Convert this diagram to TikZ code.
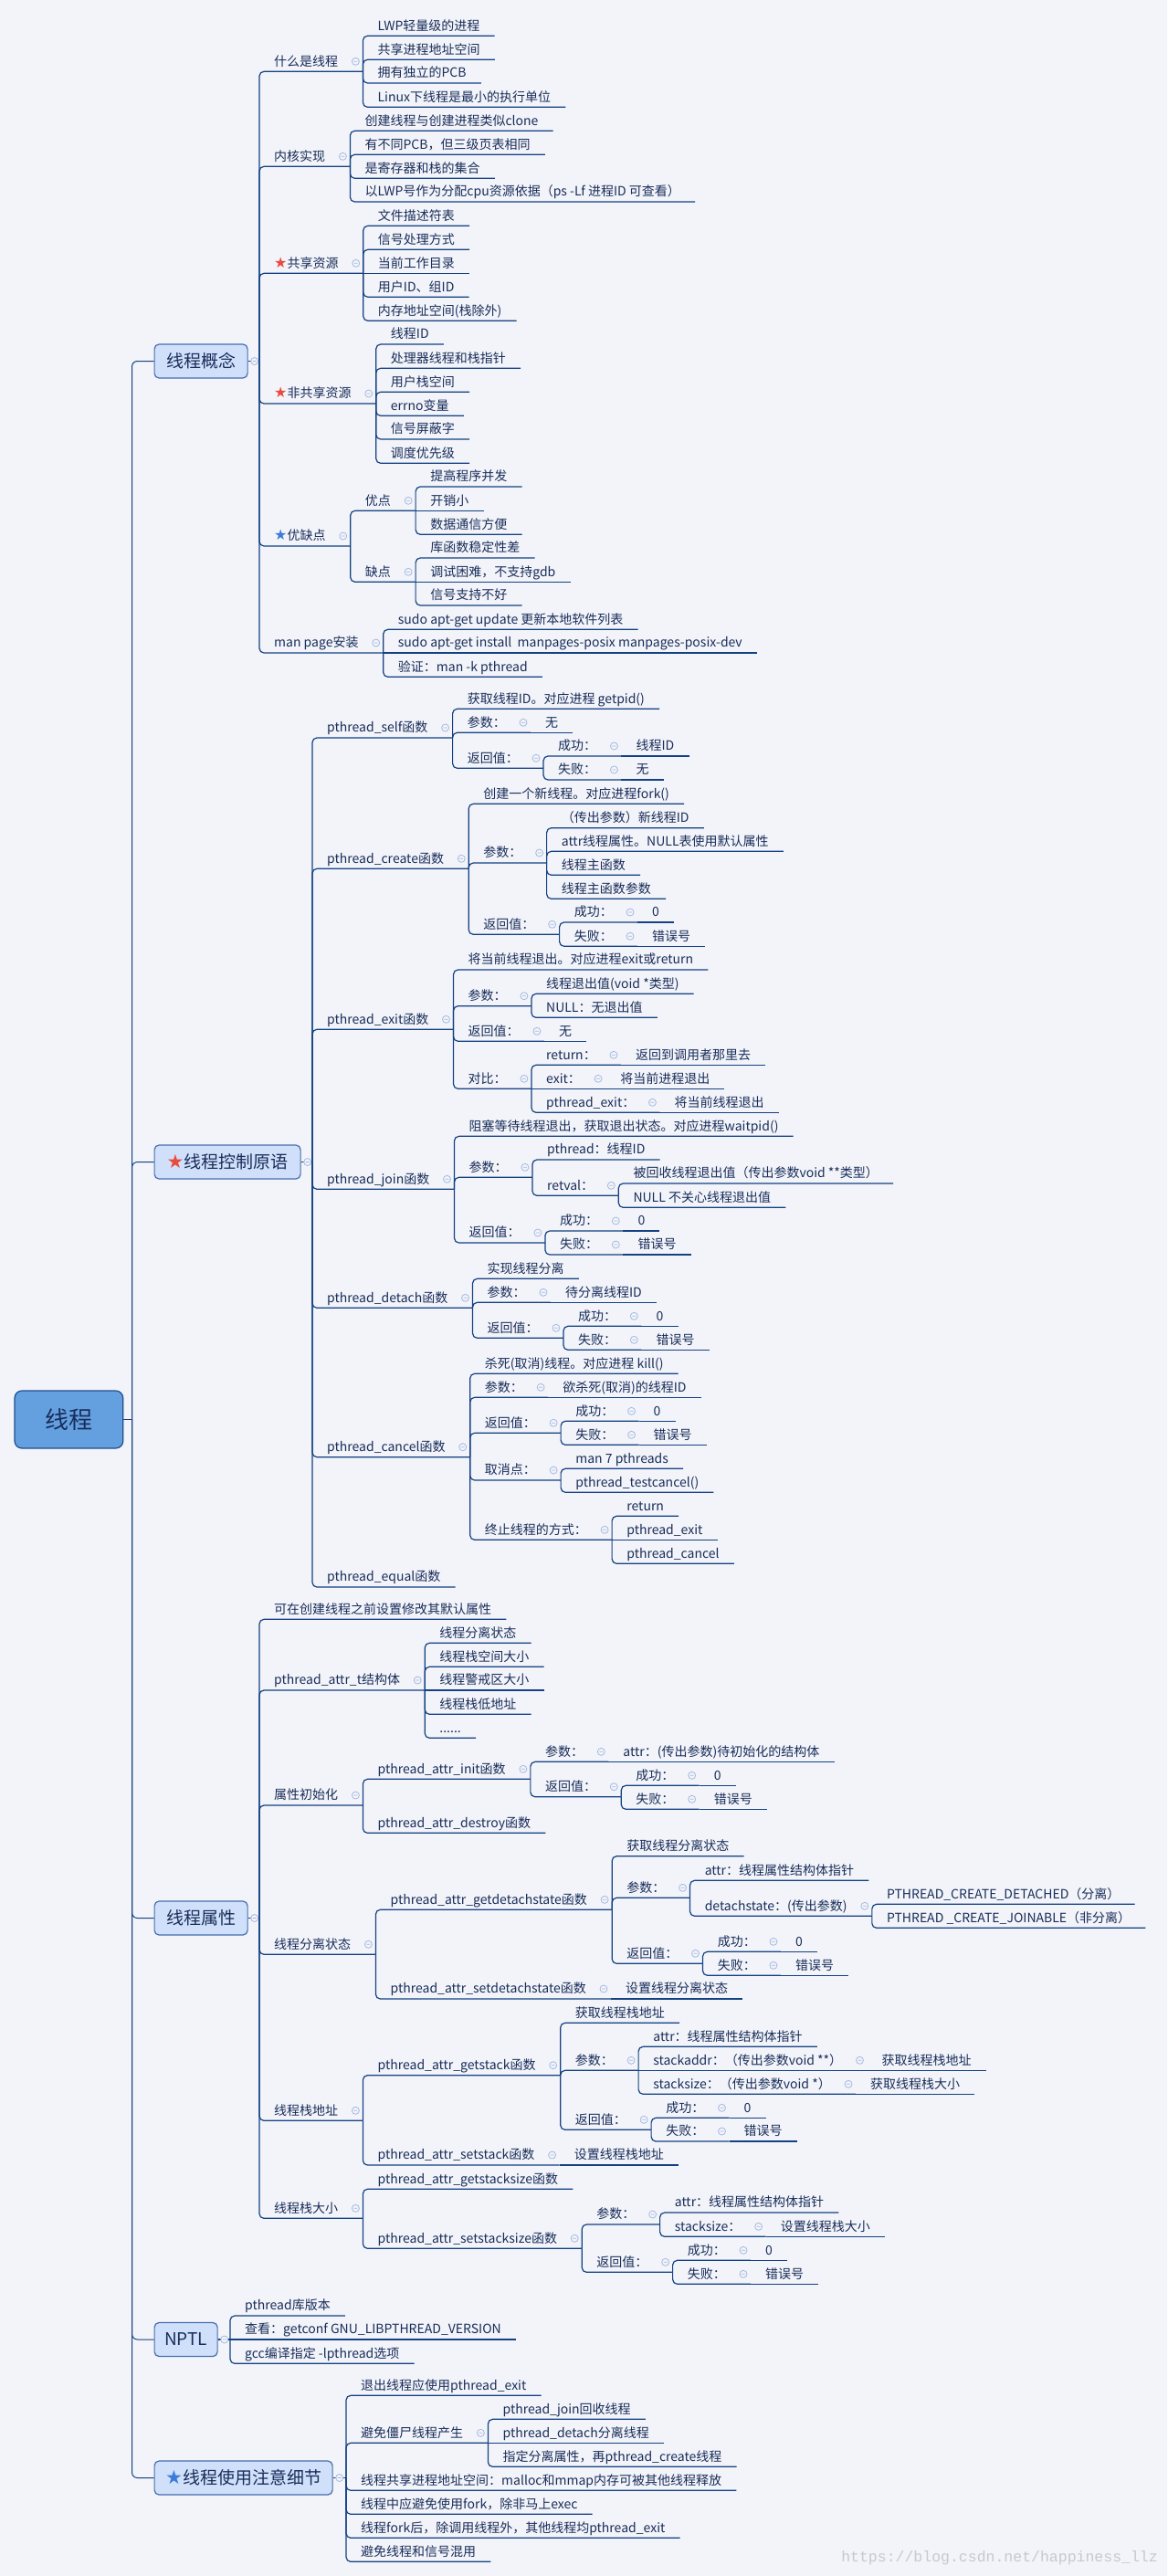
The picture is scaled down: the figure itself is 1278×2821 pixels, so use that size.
\documentclass[tikz,border=0pt]{standalone}
\usepackage{fontspec}
\setmainfont{Noto Sans CJK SC}
\newfontfamily\djf{DejaVu Sans}
\newfontfamily\wmf{Liberation Mono}
\definecolor{bgc}{RGB}{242,244,249}
\definecolor{txt}{RGB}{25,45,90}
\definecolor{lc}{RGB}{20,65,130}
\definecolor{mkc}{RGB}{165,185,225}
\definecolor{bxf}{RGB}{208,224,250}
\definecolor{bxd}{RGB}{70,110,175}
\definecolor{rtf}{RGB}{100,160,224}
\definecolor{rtd}{RGB}{31,78,140}
\definecolor{strd}{RGB}{232,76,61}
\definecolor{stbl}{RGB}{58,123,219}
\definecolor{wmc}{RGB}{200,200,206}
\newcommand\fsz{\fontsize{14pt}{16pt}\selectfont}
\newcommand\rstar{{\djf\fontsize{16pt}{16pt}\selectfont\color{strd}★}}
\newcommand\bstar{{\djf\fontsize{16pt}{16pt}\selectfont\color{stbl}★}}
\newcommand\brstar{{\djf\fontsize{21pt}{21pt}\selectfont\color{strd}★}}
\newcommand\bbstar{{\djf\fontsize{21pt}{21pt}\selectfont\color{stbl}★}}
\tikzset{
 lf/.style={anchor=south west, inner xsep=16pt, inner ysep=3pt, text height=11pt, text depth=3pt, font=\fsz, text=txt},
 pr/.style={lf, execute at end node={\hspace{11pt}}},
 ln/.style={draw=lc, line width=1.2pt, rounded corners=5pt},
 mln/.style={draw=lc, line width=1pt, rounded corners=6pt},
 bx/.style={draw=bxd, fill=bxf, rounded corners=5pt, line width=1.2pt, font=\fontsize{19pt}{22pt}\selectfont, text=txt, minimum height=37pt, anchor=west, inner sep=0pt},
 mk/.style={draw=mkc, fill=bgc, line width=0.8pt},
}
\newcommand\mkr[1]{\draw[mk] ([xshift=-8pt,yshift=11pt]#1.south east) circle[radius=4pt] +(-2pt,0) -- +(2pt,0);}
\newcommand\mkbx[1]{\draw[mk] ([xshift=7pt]#1.east) circle[radius=4pt] +(-2pt,0) -- +(2pt,0);}
\begin{document}
\begin{tikzpicture}[x=1pt,y=1pt]
\fill[bgc] (0,0) rectangle (1278,-2821);
\useasboundingbox (0,0) rectangle (1278,-2821);

% root and main boxes
\node[draw=rtd, fill=rtf, rounded corners=8pt, line width=1.2pt, minimum width=118.7pt, minimum height=63pt, inner sep=0pt, font=\fontsize{26pt}{28pt}\selectfont, text=txt] (R) at (75.4,-1554.5) {线程};
\coordinate (Rv) at (144.5,-1554.5);
\node[bx, minimum width=102pt] (A) at (168.5,-395.5) {线程概念};
\node[bx, minimum width=160pt] (B) at (168.5,-1272.5) {\brstar{}线程控制原语};
\node[bx, minimum width=102pt] (C) at (168.5,-2100.5) {线程属性};
\node[bx, minimum width=69pt] (D) at (168.5,-2562) {NPTL};
\node[bx, minimum width=195pt] (E) at (168.5,-2713.5) {\bbstar{}线程使用注意细节};
\coordinate (Av) at (284,-395.5);
\coordinate (Bv) at (342,-1272.5);
\coordinate (Cv) at (284,-2100.5);
\coordinate (Dv) at (252,-2562);
\coordinate (Ev) at (379,-2713.5);

% A
\node[pr] (A1) at (Av |- 0,-78.3) {什么是线程};
\node[lf] (A11) at (A1.south east |- 0,-39.3) {LWP轻量级的进程};
\node[lf] (A12) at (A1.south east |- 0,-65.3) {共享进程地址空间};
\node[lf] (A13) at (A1.south east |- 0,-91) {拥有独立的PCB};
\node[lf] (A14) at (A1.south east |- 0,-117.3) {Linux下线程是最小的执行单位};
\node[pr] (A2) at (Av |- 0,-182.3) {内核实现};
\node[lf] (A21) at (A2.south east |- 0,-143.3) {创建线程与创建进程类似clone};
\node[lf] (A22) at (A2.south east |- 0,-169.3) {有不同PCB，但三级页表相同};
\node[lf] (A23) at (A2.south east |- 0,-195.3) {是寄存器和栈的集合};
\node[lf] (A24) at (A2.south east |- 0,-221) {以LWP号作为分配cpu资源依据（ps -Lf 进程ID 可查看）};
\node[pr] (A3) at (Av |- 0,-299.3) {\rstar{}共享资源};
\node[lf] (A31) at (A3.south east |- 0,-247.3) {文件描述符表};
\node[lf] (A32) at (A3.south east |- 0,-273.3) {信号处理方式};
\node[lf] (A33) at (A3.south east) {当前工作目录};
\node[lf] (A34) at (A3.south east |- 0,-325.3) {用户ID、组ID};
\node[lf] (A35) at (A3.south east |- 0,-351.3) {内存地址空间(栈除外)};
\node[pr] (A4) at (Av |- 0,-442) {\rstar{}非共享资源};
\node[lf] (A41) at (A4.south east |- 0,-377) {线程ID};
\node[lf] (A42) at (A4.south east |- 0,-403.3) {处理器线程和栈指针};
\node[lf] (A43) at (A4.south east |- 0,-429.3) {用户栈空间};
\node[lf] (A44) at (A4.south east |- 0,-455.3) {errno变量};
\node[lf] (A45) at (A4.south east |- 0,-481) {信号屏蔽字};
\node[lf] (A46) at (A4.south east |- 0,-507.3) {调度优先级};
\node[pr] (A5) at (Av |- 0,-598) {\bstar{}优缺点};
\node[pr] (A51) at (A5.south east |- 0,-559.3) {优点};
\node[lf] (A511) at (A51.south east |- 0,-533) {提高程序并发};
\node[lf] (A512) at (A51.south east) {开销小};
\node[lf] (A513) at (A51.south east |- 0,-585.3) {数据通信方便};
\node[pr] (A52) at (A5.south east |- 0,-637.3) {缺点};
\node[lf] (A521) at (A52.south east |- 0,-611) {库函数稳定性差};
\node[lf] (A522) at (A52.south east) {调试困难，不支持gdb};
\node[lf] (A523) at (A52.south east |- 0,-663) {信号支持不好};
\node[pr] (A6) at (Av |- 0,-715) {man page安装};
\node[lf] (A61) at (A6.south east |- 0,-689.3) {sudo apt-get update 更新本地软件列表};
\node[lf] (A62) at (A6.south east) {sudo apt-get install\ \ manpages-posix manpages-posix-dev};
\node[lf] (A63) at (A6.south east |- 0,-741.3) {验证：man -k pthread};

% B
\node[pr] (B1) at (Bv |- 0,-808) {pthread\_self函数};
\node[lf] (B11) at (B1.south east |- 0,-776.3) {获取线程ID。对应进程 getpid()};
\node[pr] (B12) at (B1.south east |- 0,-802.3) {参数：};
\node[lf] (B12a) at (B12.south east) {无};
\node[pr] (B13) at (B1.south east |- 0,-841.3) {返回值：};
\node[pr] (B131) at (B13.south east |- 0,-828) {成功：};
\node[lf] (B131a) at (B131.south east) {线程ID};
\node[pr] (B132) at (B13.south east |- 0,-854) {失败：};
\node[lf] (B132a) at (B132.south east) {无};
\node[pr] (B2) at (Bv |- 0,-951.3) {pthread\_create函数};
\node[lf] (B21) at (B2.south east |- 0,-880.3) {创建一个新线程。对应进程fork()};
\node[pr] (B22) at (B2.south east |- 0,-945) {参数：};
\node[lf] (B221) at (B22.south east |- 0,-906.7) {（传出参数）新线程ID};
\node[lf] (B222) at (B22.south east |- 0,-932.3) {attr线程属性。NULL表使用默认属性};
\node[lf] (B223) at (B22.south east |- 0,-958.3) {线程主函数};
\node[lf] (B224) at (B22.south east |- 0,-984.3) {线程主函数参数};
\node[pr] (B23) at (B2.south east |- 0,-1023.3) {返回值：};
\node[pr] (B231) at (B23.south east |- 0,-1010) {成功：};
\node[lf] (B231a) at (B231.south east) {0};
\node[pr] (B232) at (B23.south east |- 0,-1036.3) {失败：};
\node[lf] (B232a) at (B232.south east) {错误号};
\node[pr] (B3) at (Bv |- 0,-1127.3) {pthread\_exit函数};
\node[lf] (B31) at (B3.south east |- 0,-1062) {将当前线程退出。对应进程exit或return};
\node[pr] (B32) at (B3.south east |- 0,-1101.7) {参数：};
\node[lf] (B321) at (B32.south east |- 0,-1088.3) {线程退出值(void *类型)};
\node[lf] (B322) at (B32.south east |- 0,-1114.3) {NULL：无退出值};
\node[pr] (B33) at (B3.south east |- 0,-1140.3) {返回值：};
\node[lf] (B33a) at (B33.south east) {无};
\node[pr] (B34) at (B3.south east |- 0,-1192.3) {对比：};
\node[pr] (B341) at (B34.south east |- 0,-1166.3) {return：};
\node[lf] (B341a) at (B341.south east) {返回到调用者那里去};
\node[pr] (B342) at (B34.south east) {exit：};
\node[lf] (B342a) at (B342.south east) {将当前进程退出};
\node[pr] (B343) at (B34.south east |- 0,-1218.3) {pthread\_exit：};
\node[lf] (B343a) at (B343.south east) {将当前线程退出};
\node[pr] (B4) at (Bv |- 0,-1302.3) {pthread\_join函数};
\node[lf] (B41) at (B4.south east |- 0,-1244.3) {阻塞等待线程退出，获取退出状态。对应进程waitpid()};
\node[pr] (B42) at (B4.south east |- 0,-1289.3) {参数：};
\node[lf] (B421) at (B42.south east |- 0,-1270) {pthread：线程ID};
\node[pr] (B422) at (B42.south east |- 0,-1309.3) {retval：};
\node[lf] (B4221) at (B422.south east |- 0,-1296) {被回收线程退出值（传出参数void **类型）};
\node[lf] (B4222) at (B422.south east |- 0,-1322.3) {NULL 不关心线程退出值};
\node[pr] (B43) at (B4.south east |- 0,-1361) {返回值：};
\node[pr] (B431) at (B43.south east |- 0,-1348) {成功：};
\node[lf] (B431a) at (B431.south east) {0};
\node[pr] (B432) at (B43.south east |- 0,-1374) {失败：};
\node[lf] (B432a) at (B432.south east) {错误号};
\node[pr] (B5) at (Bv |- 0,-1432.3) {pthread\_detach函数};
\node[lf] (B51) at (B5.south east |- 0,-1400.3) {实现线程分离};
\node[pr] (B52) at (B5.south east |- 0,-1426.3) {参数：};
\node[lf] (B52a) at (B52.south east) {待分离线程ID};
\node[pr] (B53) at (B5.south east |- 0,-1465.3) {返回值：};
\node[pr] (B531) at (B53.south east |- 0,-1452.3) {成功：};
\node[lf] (B531a) at (B531.south east) {0};
\node[pr] (B532) at (B53.south east |- 0,-1478.3) {失败：};
\node[lf] (B532a) at (B532.south east) {错误号};
\node[pr] (B6) at (Bv |- 0,-1595.7) {pthread\_cancel函数};
\node[lf] (B61) at (B6.south east |- 0,-1504.3) {杀死(取消)线程。对应进程 kill()};
\node[pr] (B62) at (B6.south east |- 0,-1530.3) {参数：};
\node[lf] (B62a) at (B62.south east) {欲杀死(取消)的线程ID};
\node[pr] (B63) at (B6.south east |- 0,-1569.3) {返回值：};
\node[pr] (B631) at (B63.south east |- 0,-1556.3) {成功：};
\node[lf] (B631a) at (B631.south east) {0};
\node[pr] (B632) at (B63.south east |- 0,-1582.3) {失败：};
\node[lf] (B632a) at (B632.south east) {错误号};
\node[pr] (B64) at (B6.south east |- 0,-1621) {取消点：};
\node[lf] (B641) at (B64.south east |- 0,-1608.3) {man 7 pthreads};
\node[lf] (B642) at (B64.south east |- 0,-1634.3) {pthread\_testcancel()};
\node[pr] (B65) at (B6.south east |- 0,-1686.3) {终止线程的方式：};
\node[lf] (B651) at (B65.south east |- 0,-1660.3) {return};
\node[lf] (B652) at (B65.south east) {pthread\_exit};
\node[lf] (B653) at (B65.south east |- 0,-1712.3) {pthread\_cancel};
\node[lf] (B7) at (Bv |- 0,-1738) {pthread\_equal函数};

% C
\node[lf] (C1) at (Cv |- 0,-1773.3) {可在创建线程之前设置修改其默认属性};
\node[pr] (C2) at (Cv |- 0,-1851) {pthread\_attr\_t结构体};
\node[lf] (C21) at (C2.south east |- 0,-1799.3) {线程分离状态};
\node[lf] (C22) at (C2.south east |- 0,-1825.3) {线程栈空间大小};
\node[lf] (C23) at (C2.south east) {线程警戒区大小};
\node[lf] (C24) at (C2.south east |- 0,-1877.3) {线程栈低地址};
\node[lf] (C25) at (C2.south east |- 0,-1903.3) {......};
\node[pr] (C3) at (Cv |- 0,-1977) {属性初始化};
\node[pr] (C31) at (C3.south east |- 0,-1948.3) {pthread\_attr\_init函数};
\node[pr] (C311) at (C31.south east |- 0,-1929.3) {参数：};
\node[lf] (C311a) at (C311.south east) {attr：(传出参数)待初始化的结构体};
\node[pr] (C312) at (C31.south east |- 0,-1967.7) {返回值：};
\node[pr] (C3121) at (C312.south east |- 0,-1955.3) {成功：};
\node[lf] (C3121a) at (C3121.south east) {0};
\node[pr] (C3122) at (C312.south east |- 0,-1981.3) {失败：};
\node[lf] (C3122a) at (C3122.south east) {错误号};
\node[lf] (C32) at (C3.south east |- 0,-2007.3) {pthread\_attr\_destroy函数};
\node[pr] (C4) at (Cv |- 0,-2140.3) {线程分离状态};
\node[pr] (C41) at (C4.south east |- 0,-2091.3) {pthread\_attr\_getdetachstate函数};
\node[lf] (C411) at (C41.south east |- 0,-2032.7) {获取线程分离状态};
\node[pr] (C412) at (C41.south east |- 0,-2078.3) {参数：};
\node[lf] (C4121) at (C412.south east |- 0,-2059.3) {attr：线程属性结构体指针};
\node[pr] (C4122) at (C412.south east |- 0,-2098.3) {detachstate：(传出参数)};
\node[lf] (C41221) at (C4122.south east |- 0,-2085.3) {PTHREAD\_CREATE\_DETACHED（分离）};
\node[lf] (C41222) at (C4122.south east |- 0,-2111.3) {PTHREAD \_CREATE\_JOINABLE（非分离）};
\node[pr] (C413) at (C41.south east |- 0,-2150.3) {返回值：};
\node[pr] (C4131) at (C413.south east |- 0,-2137.3) {成功：};
\node[lf] (C4131a) at (C4131.south east) {0};
\node[pr] (C4132) at (C413.south east |- 0,-2163.3) {失败：};
\node[lf] (C4132a) at (C4132.south east) {错误号};
\node[pr] (C42) at (C4.south east |- 0,-2189) {pthread\_attr\_setdetachstate函数};
\node[lf] (C42a) at (C42.south east) {设置线程分离状态};
\node[pr] (C5) at (Cv |- 0,-2322.3) {线程栈地址};
\node[pr] (C51) at (C5.south east |- 0,-2272.7) {pthread\_attr\_getstack函数};
\node[lf] (C511) at (C51.south east |- 0,-2215.3) {获取线程栈地址};
\node[pr] (C512) at (C51.south east |- 0,-2267.3) {参数：};
\node[lf] (C5121) at (C512.south east |- 0,-2241.3) {attr：线程属性结构体指针};
\node[pr] (C5122) at (C512.south east) {stackaddr：（传出参数void **）};
\node[lf] (C5122a) at (C5122.south east) {获取线程栈地址};
\node[pr] (C5123) at (C512.south east |- 0,-2293.3) {stacksize：（传出参数void *）};
\node[lf] (C5123a) at (C5123.south east) {获取线程栈大小};
\node[pr] (C513) at (C51.south east |- 0,-2332.3) {返回值：};
\node[pr] (C5131) at (C513.south east |- 0,-2319.3) {成功：};
\node[lf] (C5131a) at (C5131.south east) {0};
\node[pr] (C5132) at (C513.south east |- 0,-2345) {失败：};
\node[lf] (C5132a) at (C5132.south east) {错误号};
\node[pr] (C52) at (C5.south east |- 0,-2371) {pthread\_attr\_setstack函数};
\node[lf] (C52a) at (C52.south east) {设置线程栈地址};
\node[pr] (C6) at (Cv |- 0,-2429.3) {线程栈大小};
\node[lf] (C61) at (C6.south east |- 0,-2397.3) {pthread\_attr\_getstacksize函数};
\node[pr] (C62) at (C6.south east |- 0,-2462.3) {pthread\_attr\_setstacksize函数};
\node[pr] (C621) at (C62.south east |- 0,-2436) {参数：};
\node[lf] (C6211) at (C621.south east |- 0,-2423) {attr：线程属性结构体指针};
\node[pr] (C6212) at (C621.south east |- 0,-2449.3) {stacksize：};
\node[lf] (C6212a) at (C6212.south east) {设置线程栈大小};
\node[pr] (C622) at (C62.south east |- 0,-2488.3) {返回值：};
\node[pr] (C6221) at (C622.south east |- 0,-2475.3) {成功：};
\node[lf] (C6221a) at (C6221.south east) {0};
\node[pr] (C6222) at (C622.south east |- 0,-2501.3) {失败：};
\node[lf] (C6222a) at (C6222.south east) {错误号};

% D
\node[lf] (D1) at (Dv |- 0,-2536) {pthread库版本};
\node[lf] (D2) at (Dv) {查看：getconf GNU\_LIBPTHREAD\_VERSION};
\node[lf] (D3) at (Dv |- 0,-2588.3) {gcc编译指定 -lpthread选项};

% E
\node[lf] (E1) at (Ev |- 0,-2623.3) {退出线程应使用pthread\_exit};
\node[pr] (E2) at (Ev |- 0,-2675.3) {避免僵尸线程产生};
\node[lf] (E21) at (E2.south east |- 0,-2649.3) {pthread\_join回收线程};
\node[lf] (E22) at (E2.south east) {pthread\_detach分离线程};
\node[lf] (E23) at (E2.south east |- 0,-2701.3) {指定分离属性，再pthread\_create线程};
\node[lf] (E3) at (Ev |- 0,-2727.3) {线程共享进程地址空间：malloc和mmap内存可被其他线程释放};
\node[lf] (E4) at (Ev |- 0,-2753.3) {线程中应避免使用fork，除非马上exec};
\node[lf] (E5) at (Ev |- 0,-2779.3) {线程fork后，除调用线程外，其他线程均pthread\_exit};
\node[lf] (E6) at (Ev |- 0,-2805.3) {避免线程和信号混用};

\node[font=\wmf\fontsize{16.5pt}{18pt}\selectfont, text=wmc, anchor=east, inner sep=0pt] (W) at (1268,-2801) {https://blog.csdn.net/happiness\_llz};

% connectors
\draw[mln] (R.east) -- (Rv);
\foreach \ch in {A,B,C,D,E} {\draw[mln] (Rv) |- (\ch.west);}
\foreach \ch in {A,B,C,D,E} {\draw[ln] (\ch.east) -- (\ch v);}
\foreach \pa/\ch in {Av/A1,Av/A2,Av/A3,Av/A4,Av/A5,Av/A6,
  Bv/B1,Bv/B2,Bv/B3,Bv/B4,Bv/B5,Bv/B6,Bv/B7,
  Cv/C1,Cv/C2,Cv/C3,Cv/C4,Cv/C5,Cv/C6,
  Dv/D1,Dv/D3,
  Ev/E1,Ev/E2,Ev/E3,Ev/E4,Ev/E5,Ev/E6}
  {\draw[ln] (\pa) |- (\ch.south east);}
\draw[ln] (Dv) -- (D2.south east);
\foreach \pa/\ch in {A1/A11,A1/A12,A1/A13,A1/A14,
  A2/A21,A2/A22,A2/A23,A2/A24,
  A3/A31,A3/A32,A3/A34,A3/A35,
  A4/A41,A4/A42,A4/A43,A4/A44,A4/A45,A4/A46,
  A5/A51,A5/A52,A51/A511,A51/A513,A52/A521,A52/A523,A6/A61,A6/A63,
  B1/B11,B1/B12,B1/B13,B13/B131,B13/B132,
  B2/B21,B2/B22,B2/B23,B22/B221,B22/B222,B22/B223,B22/B224,B23/B231,B23/B232,
  B3/B31,B3/B32,B3/B33,B3/B34,B32/B321,B32/B322,B34/B341,B34/B343,
  B4/B41,B4/B42,B4/B43,B42/B421,B42/B422,B422/B4221,B422/B4222,B43/B431,B43/B432,
  B5/B51,B5/B52,B5/B53,B53/B531,B53/B532,
  B6/B61,B6/B62,B6/B63,B6/B64,B6/B65,B63/B631,B63/B632,B64/B641,B64/B642,B65/B651,B65/B653,
  C2/C21,C2/C22,C2/C24,C2/C25,
  C3/C31,C3/C32,C31/C311,C31/C312,C312/C3121,C312/C3122,
  C4/C41,C4/C42,C41/C411,C41/C412,C41/C413,C412/C4121,C412/C4122,C4122/C41221,C4122/C41222,C413/C4131,C413/C4132,
  C5/C51,C5/C52,C51/C511,C51/C512,C51/C513,C512/C5121,C512/C5123,C513/C5131,C513/C5132,
  C6/C61,C6/C62,C62/C621,C62/C622,C621/C6211,C621/C6212,C622/C6221,C622/C6222,
  E2/E21,E2/E23}
  {\draw[ln] (\pa.south east) |- (\ch.south east);}
\foreach \pa/\ch in {A3/A33,A51/A512,A52/A522,A6/A62,
  B12/B12a,B131/B131a,B132/B132a,B231/B231a,B232/B232a,B33/B33a,B34/B342,B341/B341a,B342/B342a,B343/B343a,
  B431/B431a,B432/B432a,B52/B52a,B531/B531a,B532/B532a,B62/B62a,B631/B631a,B632/B632a,B65/B652,
  C2/C23,C311/C311a,C3121/C3121a,C3122/C3122a,C4131/C4131a,C4132/C4132a,C42/C42a,C512/C5122,C5122/C5122a,
  C5123/C5123a,C5131/C5131a,C5132/C5132a,C52/C52a,C6212/C6212a,C6221/C6221a,C6222/C6222a,
  E2/E22}
  {\draw[ln] (\pa.south east) -- (\ch.south east);}

% collapse markers
\foreach \n in {A,B,C,D,E} {\mkbx{\n}}
\foreach \n in {A1,A2,A3,A4,A5,A51,A52,A6,
  B1,B12,B13,B131,B132,B2,B22,B23,B231,B232,B3,B32,B33,B34,B341,B342,B343,
  B4,B42,B422,B43,B431,B432,B5,B52,B53,B531,B532,B6,B62,B63,B631,B632,B64,B65,
  C2,C3,C31,C311,C312,C3121,C3122,C4,C41,C412,C4122,C413,C4131,C4132,C42,
  C5,C51,C512,C5122,C5123,C513,C5131,C5132,C52,C6,C62,C621,C6212,C622,C6221,C6222,E2}
  {\mkr{\n}}
\end{tikzpicture}
\end{document}
